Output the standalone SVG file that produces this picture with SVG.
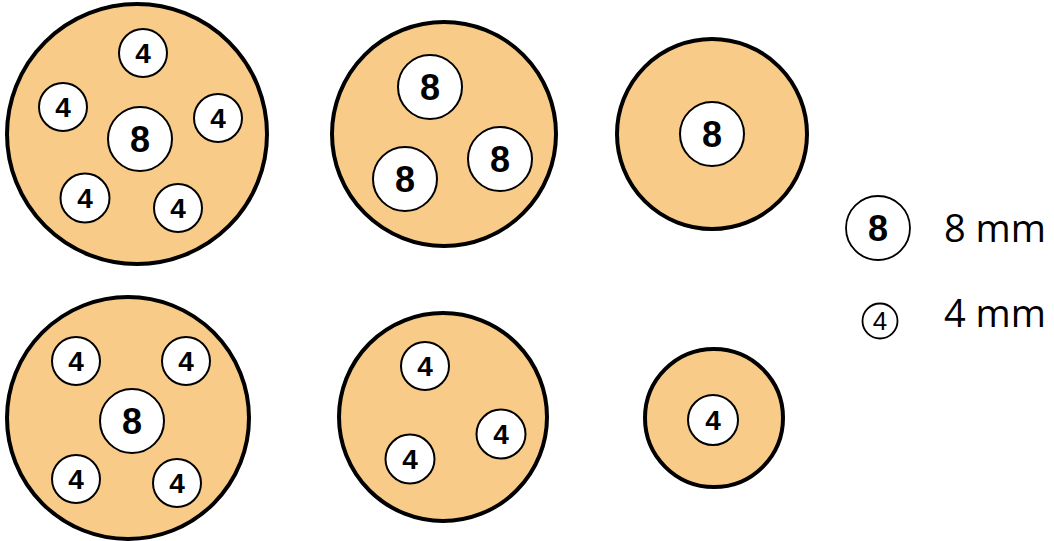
<svg xmlns="http://www.w3.org/2000/svg" width="1054" height="541" viewBox="0 0 1054 541">
<style>
.plate{fill:#F8CC88;stroke:#000;stroke-width:4}
.hole{fill:#fff;stroke:#000;stroke-width:2}
.lh{fill:#fff;stroke:#000;stroke-width:1.8}
.d8{font-family:"Liberation Sans",Arial,sans-serif;font-weight:bold;font-size:36px;text-anchor:middle}
.d4{font-family:"Liberation Sans",Arial,sans-serif;font-weight:bold;font-size:28px;text-anchor:middle}
.l4{font-family:"Liberation Sans",Arial,sans-serif;font-size:26px;text-anchor:middle}
.lt{font-family:"Open Sans","Liberation Sans",sans-serif;font-size:38px}
</style>
<rect width="1054" height="541" fill="#fff"/>
<g id="plate1">
<circle class="plate" cx="137" cy="134" r="130"/>
<circle class="hole" cx="143" cy="53" r="24"/><text class="d4" x="143" y="63">4</text>
<circle class="hole" cx="63" cy="107" r="24"/><text class="d4" x="63" y="117">4</text>
<circle class="hole" cx="218" cy="118" r="24"/><text class="d4" x="218" y="128">4</text>
<circle class="hole" cx="140" cy="139" r="32"/><text class="d8" x="140" y="152">8</text>
<circle class="hole" cx="85" cy="198" r="24.5"/><text class="d4" x="85" y="208">4</text>
<circle class="hole" cx="178" cy="208" r="24"/><text class="d4" x="178" y="218">4</text>
</g>
<g id="plate2">
<circle class="plate" cx="444" cy="134" r="112"/>
<circle class="hole" cx="430" cy="87" r="32"/><text class="d8" x="430" y="100">8</text>
<circle class="hole" cx="405" cy="179" r="32"/><text class="d8" x="405" y="192">8</text>
<circle class="hole" cx="500" cy="159" r="32"/><text class="d8" x="500" y="172">8</text>
</g>
<g id="plate3">
<circle class="plate" cx="712" cy="134" r="95"/>
<circle class="hole" cx="712" cy="134" r="32"/><text class="d8" x="712" y="147">8</text>
</g>
<g id="plate4">
<circle class="plate" cx="128" cy="418" r="121"/>
<circle class="hole" cx="76" cy="361" r="24"/><text class="d4" x="76" y="371">4</text>
<circle class="hole" cx="186" cy="361" r="24"/><text class="d4" x="186" y="371">4</text>
<circle class="hole" cx="132" cy="421" r="32"/><text class="d8" x="132" y="434">8</text>
<circle class="hole" cx="76" cy="479" r="24"/><text class="d4" x="76" y="489">4</text>
<circle class="hole" cx="177" cy="483" r="24"/><text class="d4" x="177" y="493">4</text>
</g>
<g id="plate5">
<circle class="plate" cx="443" cy="417" r="104"/>
<circle class="hole" cx="425" cy="366" r="24"/><text class="d4" x="425" y="376">4</text>
<circle class="hole" cx="501" cy="434" r="24.5"/><text class="d4" x="501" y="444">4</text>
<circle class="hole" cx="410" cy="459" r="24.5"/><text class="d4" x="410" y="469">4</text>
</g>
<g id="plate6">
<circle class="plate" cx="714" cy="418" r="69"/>
<circle class="hole" cx="713" cy="420" r="25"/><text class="d4" x="713" y="430">4</text>
</g>
<g id="legend">
<circle class="lh" cx="878" cy="228" r="32"/><text class="d8" x="878" y="241">8</text>
<text class="lt" x="944" y="242">8 mm</text>
<circle class="lh" cx="880" cy="321" r="17.5"/><text class="l4" x="880" y="330">4</text>
<text class="lt" x="944" y="327">4 mm</text>
</g>
<g id="connectors"/>
</svg>
